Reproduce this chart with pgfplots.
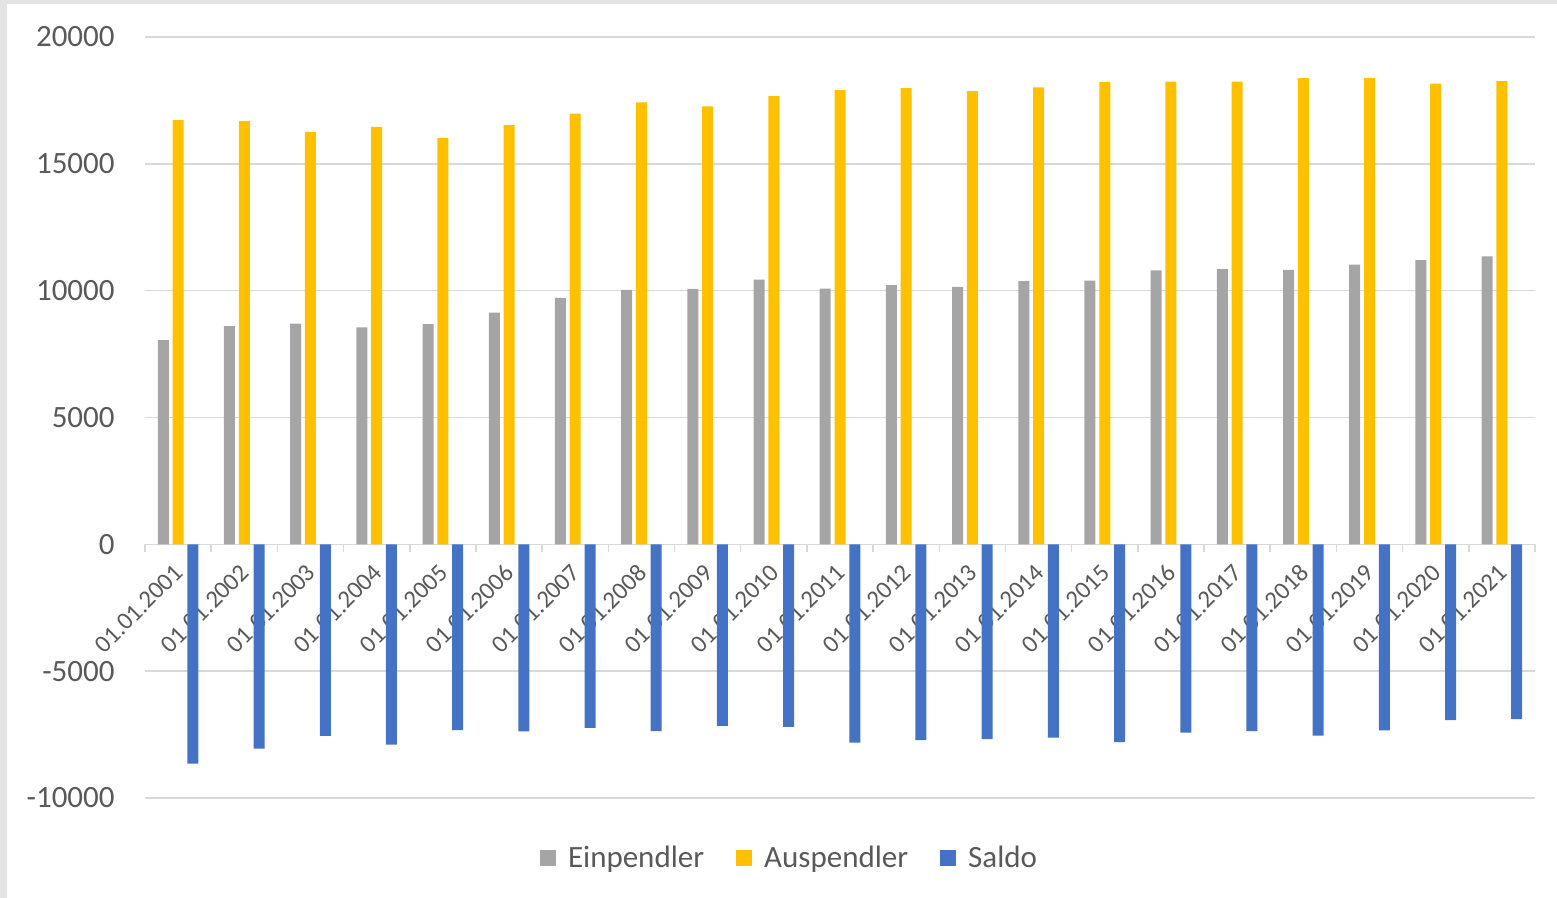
\documentclass[border=0pt]{standalone}
\usepackage{pgfplots}
\pgfplotsset{compat=1.18}
\usepackage{pgfplotstable}
\usepackage{fontspec}
\setmainfont{Carlito}
\definecolor{cgray}{HTML}{A5A5A5}
\definecolor{cyellow}{HTML}{FFC000}
\definecolor{cblue}{HTML}{4472C4}
\definecolor{cgrid}{HTML}{D9D9D9}
\definecolor{ctext}{HTML}{595959}
\definecolor{cborder}{HTML}{E4E4E4}
\pgfplotstableread{
x ein aus saldo
0 8050 16720 -8650
1 8600 16680 -8050
2 8700 16260 -7550
3 8550 16460 -7900
4 8680 16020 -7320
5 9130 16530 -7370
6 9720 16980 -7240
7 10030 17420 -7360
8 10070 17260 -7160
9 10430 17670 -7200
10 10080 17910 -7820
11 10220 17980 -7720
12 10150 17870 -7680
13 10380 18010 -7620
14 10400 18230 -7800
15 10800 18240 -7420
16 10850 18240 -7360
17 10820 18380 -7540
18 11030 18390 -7330
19 11200 18160 -6930
20 11350 18260 -6890
}\datatable
\begin{document}
\begin{tikzpicture}
\path[use as bounding box] (0,0) rectangle (778.5pt,449pt);
\fill[cborder] (0,447pt) rectangle (778.5pt,449pt);
\fill[cborder] (0,0) rectangle (3.5pt,449pt);
\begin{axis}[
  at={(72.5pt,50pt)}, anchor=south west,
  scale only axis, width=695pt, height=380.5pt,
  xmin=-0.5, xmax=20.5, ymin=-10000, ymax=20000,
  scaled y ticks=false,
  ybar=1.9pt, bar width=5.5pt,
  axis x line=middle, axis y line*=left,
  x axis line style={-, draw=cgrid, line width=0.75pt},
  y axis line style={draw=none},
  hide obscured x ticks=false, hide obscured y ticks=false,
  ytick={-10000,-5000,0,5000,10000,15000,20000},
  ymajorgrids, grid style={draw=cgrid, line width=0.75pt},
  ytick style={draw=none},
  xtick={0,...,20},
  xticklabels={01.01.2001,01.01.2002,01.01.2003,01.01.2004,01.01.2005,01.01.2006,01.01.2007,01.01.2008,01.01.2009,01.01.2010,01.01.2011,01.01.2012,01.01.2013,01.01.2014,01.01.2015,01.01.2016,01.01.2017,01.01.2018,01.01.2019,01.01.2020,01.01.2021},
  major x tick style={draw=none},
  minor xtick={-0.5,0.5,...,20.5},
  minor x tick style={draw=cgrid, line width=0.75pt},
  tick align=outside, minor tick length=4pt, major tick length=0pt,
  /pgf/number format/assume math mode=true,
  /pgf/number format/1000 sep={},
  yticklabel style={font=\fontsize{15.5}{18}\selectfont, text=ctext, inner sep=0pt, xshift=-15pt},
  xticklabel style={font=\fontsize{12.4}{15}\selectfont, text=ctext, inner sep=0pt, xshift=0.5pt, yshift=-12pt, rotate=45, anchor=east},
  legend columns=3,
  legend style={at={(0.4644,-0.0788)}, anchor=center, draw=none, fill=none,
    font=\fontsize{15.5}{18}\selectfont, text=ctext,
    /tikz/every odd column/.append style={column sep=4pt},
    /tikz/every even column/.append style={column sep=14pt}},
  legend image code/.code={\fill[#1] (0pt,-4pt) rectangle (8pt,4pt);},
]
\addplot[fill=cgray, draw=none] table[x=x, y=ein] {\datatable};
\addplot[fill=cyellow, draw=none] table[x=x, y=aus] {\datatable};
\addplot[fill=cblue, draw=none] table[x=x, y=saldo] {\datatable};
\legend{Einpendler, Auspendler, Saldo}
\end{axis}
\end{tikzpicture}
\end{document}
